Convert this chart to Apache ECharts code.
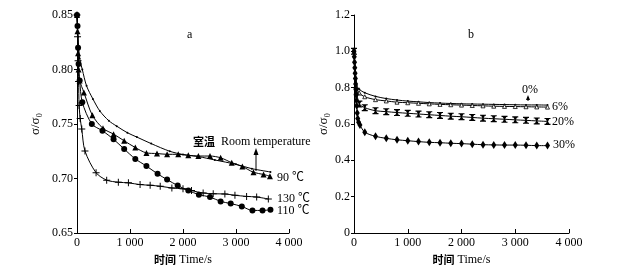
<!DOCTYPE html>
<html>
<head>
<meta charset="utf-8">
<script src="https://cdn.jsdelivr.net/npm/echarts@6/dist/echarts.min.js"></script>
<style>
  html, body { margin: 0; padding: 0; background: #fff; }
  #chart { width: 631px; height: 275px; }
</style>
</head>
<body>
<div id="chart"></div>
<script>
// 图a：不同温度
var rtTime = [0, 20, 50, 100, 180, 300, 430, 600, 750, 950, 1130, 1400, 1750, 2000, 2300, 2600, 3000, 3300, 3650];
var rtVal = [0.85, 0.83, 0.81, 0.80, 0.785, 0.773, 0.762, 0.753, 0.748, 0.742, 0.738, 0.732, 0.725, 0.722, 0.72, 0.717, 0.713, 0.709, 0.706];

var t90Time = [0, 10, 20, 30, 50, 130, 290, 490, 690, 890, 1100, 1310, 1510, 1700, 1910, 2100, 2290, 2510, 2710, 2920, 3120, 3330, 3520, 3640];
var t90Val = [0.85, 0.835, 0.815, 0.80, 0.79, 0.779, 0.758, 0.746, 0.7407, 0.7346, 0.7284, 0.7235, 0.7229, 0.7222, 0.7222, 0.7213, 0.7206, 0.7206, 0.719, 0.7145, 0.711, 0.7057, 0.7037, 0.7021];

var t110Time = [0, 10, 20, 30, 50, 100, 280, 480, 690, 890, 1100, 1310, 1520, 1700, 1900, 2100, 2300, 2510, 2710, 2900, 3110, 3310, 3500, 3650];
var t110Val = [0.85, 0.84, 0.82, 0.805, 0.79, 0.77, 0.75, 0.7438, 0.736, 0.727, 0.718, 0.7114, 0.7043, 0.699, 0.6935, 0.689, 0.6852, 0.683, 0.679, 0.677, 0.6744, 0.6707, 0.6707, 0.6713];

var t130Time = [0, 10, 20, 30, 40, 60, 90, 150, 360, 560, 780, 970, 1190, 1380, 1570, 1790, 2000, 2160, 2380, 2570, 2790, 2980, 3200, 3390, 3610];
var t130Val = [0.85, 0.83, 0.808, 0.789, 0.767, 0.755, 0.7454, 0.7253, 0.7053, 0.6985, 0.6966, 0.696, 0.6944, 0.6938, 0.6929, 0.6913, 0.6905, 0.6889, 0.6867, 0.686, 0.6858, 0.6846, 0.6836, 0.683, 0.6812];

// 图b：不同含量
var bTime = [0, 50, 100, 200, 400, 600, 800, 1000, 1200, 1400, 1600, 1800, 2000, 2200, 2400, 2600, 2800, 3000, 3200, 3400, 3600];
var p0Val = [1.0, 0.81, 0.79, 0.772, 0.752, 0.74, 0.732, 0.726, 0.722, 0.718, 0.715, 0.713, 0.711, 0.71, 0.709, 0.708, 0.707, 0.706, 0.705, 0.705, 0.704];
var p6Val = [1.0, 0.80, 0.77, 0.75, 0.734, 0.727, 0.72, 0.717, 0.714, 0.711, 0.708, 0.706, 0.704, 0.702, 0.70, 0.698, 0.697, 0.696, 0.695, 0.694, 0.693];
var p20Val = [1.0, 0.78, 0.71, 0.69, 0.673, 0.668, 0.663, 0.659, 0.655, 0.651, 0.647, 0.643, 0.64, 0.636, 0.632, 0.629, 0.626, 0.623, 0.62, 0.617, 0.614];
var p30Time = [0, 5, 10, 15, 20, 25, 30, 35, 40, 45, 50, 60, 70, 85, 110, 200, 400, 600, 800, 1000, 1200, 1400, 1600, 1800, 2000, 2200, 2400, 2600, 2800, 3000, 3200, 3400, 3600];
var p30Val = [1.0, 0.97, 0.94, 0.91, 0.88, 0.85, 0.82, 0.79, 0.76, 0.73, 0.70, 0.66, 0.63, 0.61, 0.594, 0.555, 0.532, 0.521, 0.513, 0.508, 0.503, 0.499, 0.497, 0.494, 0.492, 0.489, 0.486, 0.485, 0.484, 0.484, 0.483, 0.481, 0.481];

function pairs(ts, vs) {
    return ts.map(function (t, i) { return [t, vs[i]]; });
}

var serif = 'Liberation Serif, Times New Roman, Noto Sans CJK SC';
var plusPath = 'path://M4.3,0H5.7V4.3H10V5.7H5.7V10H4.3V5.7H0V4.3H4.3Z';
var xPath = 'path://M0,0H10V1.6H8L5.9,5L8,8.4H10V10H0V8.4H2L4.1,5L2,1.6H0Z';

function xAxisOf(idx) {
    return {
        gridIndex: idx,
        type: 'value',
        min: 0,
        max: 4000,
        interval: 1000,
        name: '{cn|时间} Time/s',
        nameLocation: 'middle',
        nameGap: 19,
        nameTextStyle: {
            fontFamily: serif, fontSize: 12, color: '#000',
            rich: { cn: { fontFamily: 'Noto Sans CJK SC', fontWeight: 'bold', fontSize: 11, color: '#000' } }
        },
        axisLine: { lineStyle: { color: '#000', width: 1 } },
        axisTick: { inside: true, length: 4, lineStyle: { color: '#000' } },
        axisLabel: {
            color: '#000', fontFamily: serif, fontSize: 12, margin: 4,
            formatter: function (v) { return v >= 1000 ? Math.floor(v / 1000) + ' ' + String(v % 1000).padStart(3, '0') : String(v); }
        },
        splitLine: { show: false }
    };
}

function yAxisOf(idx, min, max, interval, fmt, gap) {
    return {
        gridIndex: idx,
        type: 'value',
        min: min,
        max: max,
        interval: interval,
        name: 'σ/σ₀',
        nameLocation: 'middle',
        nameRotate: 90,
        nameGap: gap,
        nameTextStyle: { fontFamily: serif, fontSize: 13, color: '#000' },
        axisLine: { show: true, lineStyle: { color: '#000', width: 1 } },
        axisTick: { show: true, length: 3, lineStyle: { color: '#000' } },
        axisLabel: { color: '#000', fontFamily: serif, fontSize: 12, margin: 4, formatter: fmt },
        splitLine: { show: false }
    };
}

function line(name, xi, data, symbol, size, fill) {
    return {
        name: name,
        type: 'line',
        xAxisIndex: xi,
        yAxisIndex: xi,
        data: data,
        smooth: 0.3,
        symbol: symbol,
        symbolSize: size,
        showAllSymbol: true,
        lineStyle: { color: '#000', width: 1 },
        itemStyle: { color: fill || '#000', borderColor: '#000', borderWidth: fill ? 0.8 : 0 },
        emphasis: { disabled: true },
        animation: false,
        z: 3
    };
}

var myChart = echarts.init(document.getElementById('chart'));

function label(x, y, text) {
    return { type: 'text', left: x, top: y - 7, style: { text: text, font: '12px ' + serif, fill: '#000' } };
}

var option = {
    backgroundColor: '#fff',
    animation: false,
    grid: [
        { left: 77, top: 15, width: 212, height: 218 },
        { left: 354, top: 15, width: 215, height: 218 }
    ],
    xAxis: [xAxisOf(0), xAxisOf(1)],
    yAxis: [
        yAxisOf(0, 0.65, 0.85, 0.05, function (v) { return v.toFixed(2); }, 35),
        yAxisOf(1, 0, 1.2, 0.2, function (v) { return v === 0 ? '0' : v.toFixed(1); }, 24)
    ],
    series: [
        line('室温', 0, pairs(rtTime, rtVal), 'circle', 2),
        line('90 ℃', 0, pairs(t90Time, t90Val), 'triangle', 6),
        line('110 ℃', 0, pairs(t110Time, t110Val), 'circle', 6),
        line('130 ℃', 0, pairs(t130Time, t130Val), plusPath, 7),
        line('0%', 1, pairs(bTime, p0Val), 'circle', 2),
        line('6%', 1, pairs(bTime, p6Val), 'triangle', 4, '#fff'),
        line('20%', 1, pairs(bTime, p20Val), xPath, [6, 7]),
        line('30%', 1, pairs(p30Time, p30Val), 'diamond', [5, 8])
    ],
    graphic: [
        { type: 'text', left: 187, top: 29, style: { text: 'a', font: '12px ' + serif, fill: '#000' } },
        { type: 'text', left: 468, top: 29, style: { text: 'b', font: '12px ' + serif, fill: '#000' } },
        {
            type: 'text', left: 193, top: 136,
            style: {
                text: '{cn|室温}  Room temperature',
                font: '12px ' + serif, fill: '#000',
                rich: { cn: { fontFamily: 'Noto Sans CJK SC', fontWeight: 'bold', fontSize: 11, fill: '#000' } }
            }
        },
        { type: 'line', shape: { x1: 256, y1: 171, x2: 256, y2: 153 }, style: { stroke: '#000', lineWidth: 1 } },
        { type: 'polygon', shape: { points: [[256, 148], [253.5, 155], [258.5, 155]] }, style: { fill: '#000' } },
        label(277, 179, '90 ℃'),
        label(277, 200, '130 ℃'),
        label(277, 212, '110 ℃'),
        label(522, 91, '0%'),
        { type: 'line', shape: { x1: 528, y1: 101, x2: 528, y2: 97 }, style: { stroke: '#000', lineWidth: 1 } },
        { type: 'polygon', shape: { points: [[528, 95], [526, 100], [530, 100]] }, style: { fill: '#000' } },
        label(552, 108, '6%'),
        label(552, 123, '20%'),
        label(553, 146, '30%')
    ]
};
myChart.setOption(option);
</script>
</body>
</html>
